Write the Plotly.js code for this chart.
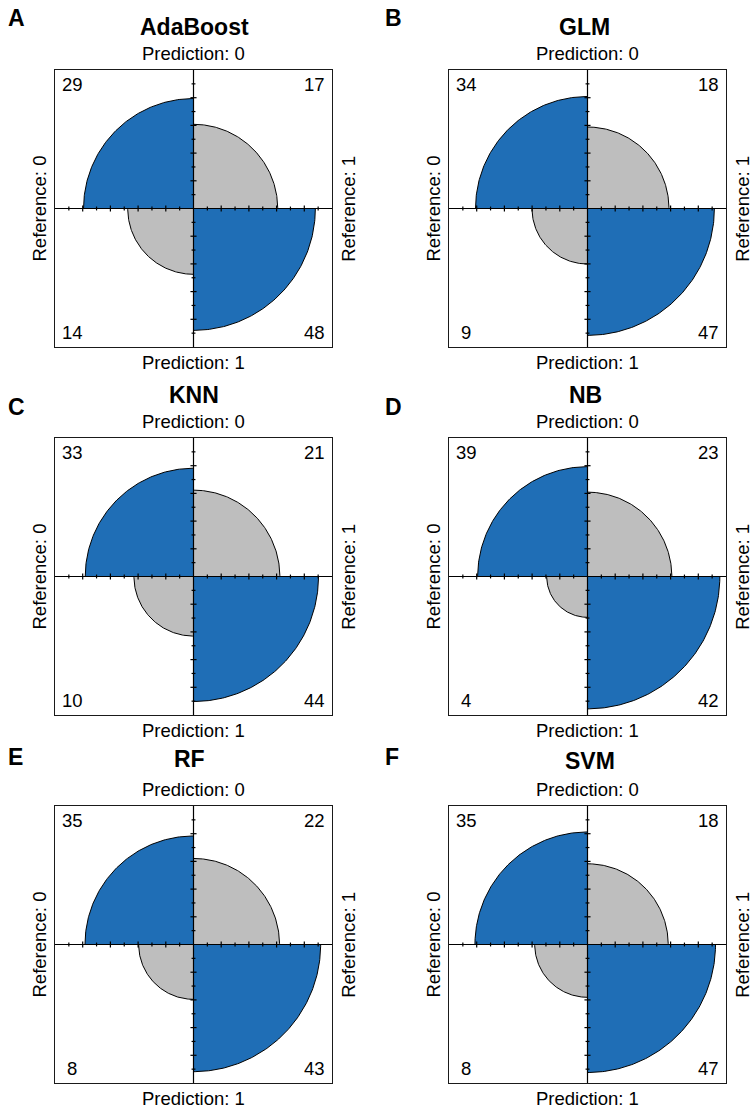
<!DOCTYPE html>
<html><head><meta charset="utf-8">
<script src="https://cdn.plot.ly/plotly-3.0.1.min.js"></script>
<style>html,body{margin:0;padding:0;background:#fff}</style>
</head><body><div id="chart" style="width:750px;height:1107px"></div>
<script>
// ---- data ----
const models = ["AdaBoost", "GLM", "KNN", "NB", "RF", "SVM"];
const panelLetters = ["A", "B", "C", "D", "E", "F"];
const pred0ref0 = [29, 34, 33, 39, 35, 35];
const pred0ref1 = [17, 18, 21, 23, 22, 18];
const pred1ref0 = [14, 9, 10, 4, 8, 8];
const pred1ref1 = [48, 47, 44, 42, 43, 47];
const rowLabels = ["Prediction: 0", "Prediction: 1"];
const colLabels = ["Reference: 0", "Reference: 1"];

// ---- layout (pixel positions) ----
const W = 750, H = 1107, S = 277;
const panels = [
  {left: 55,  top: 70,  tx: 194, ty: 27,  lx: 16,  ly: 18},
  {left: 449, top: 70,  tx: 584, ty: 27,  lx: 393, ly: 18},
  {left: 55,  top: 438, tx: 194, ty: 395, lx: 16,  ly: 407},
  {left: 449, top: 438, tx: 585, ty: 395, lx: 393, ly: 407},
  {left: 55,  top: 806, tx: 189, ty: 759, lx: 15.5, ly: 757},
  {left: 449, top: 806, tx: 590, ty: 761, lx: 392, ly: 757}
];
const BLUE = "#1f6eb6", GRAY = "#bebebe";
const FONT = "Liberation Sans, Arial, sans-serif";
const px = x => x / W, py = y => 1 - y / H;

function quarter(r, a0, a1) {
  const xs = [0], ys = [0];
  const n = 120;
  for (let k = 0; k <= n; k++) {
    const a = (a0 + (a1 - a0) * k / n) * Math.PI / 180;
    xs.push(r * Math.cos(a)); ys.push(r * Math.sin(a));
  }
  xs.push(0); ys.push(0);
  return {xs, ys};
}

const traces = [], annotations = [], layout = {
  width: W, height: H, margin: {l: 0, r: 0, t: 0, b: 0},
  paper_bgcolor: "#fff", plot_bgcolor: "#fff", showlegend: false,
  font: {family: FONT, color: "#000"}
};

models.forEach((m, i) => {
  const p = panels[i];
  const sfx = i === 0 ? "" : String(i + 1);
  const xa = "x" + sfx, ya = "y" + sfx;
  const axBase = {range: [-1, 1], showgrid: false, zeroline: false, showticklabels: false,
    ticks: "", showline: true, mirror: true, linecolor: "#1a1a1a", linewidth: 1.4, fixedrange: true};
  layout["xaxis" + sfx] = Object.assign({}, axBase, {domain: [px(p.left), px(p.left + S)], anchor: ya});
  layout["yaxis" + sfx] = Object.assign({}, axBase, {domain: [py(p.top + S), py(p.top)], anchor: xa});

  const row0 = pred0ref0[i] + pred0ref1[i], row1 = pred1ref0[i] + pred1ref1[i];
  const cells = [
    {v: pred0ref0[i], r: Math.sqrt(pred0ref0[i] / row0), a0: 90,  a1: 180, c: BLUE, tx: -0.875, ty: 0.895},
    {v: pred0ref1[i], r: Math.sqrt(pred0ref1[i] / row0), a0: 0,   a1: 90,  c: GRAY, tx: 0.875,  ty: 0.895},
    {v: pred1ref0[i], r: Math.sqrt(pred1ref0[i] / row1), a0: 180, a1: 270, c: GRAY, tx: -0.875, ty: -0.895},
    {v: pred1ref1[i], r: Math.sqrt(pred1ref1[i] / row1), a0: 270, a1: 360, c: BLUE, tx: 0.875,  ty: -0.895}
  ];
  cells.forEach(c => {
    const q = quarter(c.r, c.a0, c.a1);
    traces.push({type: "scatter", mode: "lines", x: q.xs, y: q.ys, xaxis: xa, yaxis: ya,
      fill: "toself", fillcolor: c.c, line: {color: "#000", width: 1}, hoverinfo: "skip"});
    annotations.push({xref: xa, yref: ya, x: c.tx, y: c.ty, text: String(c.v), showarrow: false,
      font: {size: 18.5, family: FONT, color: "#000"}, xanchor: "center", yanchor: "middle"});
  });

  // cross lines and ticks
  const lx = [-1, 1, null, 0, 0, null], ly = [0, 0, null, -1, 1, null];
  for (let k = -9; k <= 9; k++) {
    if (k === 0) continue;
    const t = k / 10, len = (k % 2 === 0) ? 0.022 : 0.014;
    lx.push(t, t, null); ly.push(-len, len, null);
    lx.push(-len, len, null); ly.push(t, t, null);
  }
  traces.push({type: "scatter", mode: "lines", x: lx, y: ly, xaxis: xa, yaxis: ya,
    line: {color: "#000", width: 1.2}, hoverinfo: "skip", connectgaps: false});

  const cx = p.left + S / 2, cy = p.top + S / 2;
  const txt = (x, y, text, size, bold, angle) => annotations.push({
    xref: "paper", yref: "paper", x: px(x), y: py(y), text: bold ? "<b>" + text + "</b>" : text,
    showarrow: false, xanchor: "center", yanchor: "middle", textangle: angle || 0,
    font: {size: size, family: FONT, color: "#000"}});
  txt(p.tx, p.ty, m, 23, true);
  txt(p.lx, p.ly, panelLetters[i], 23, true);
  txt(cx, p.top - 16.5, rowLabels[0], 18.5, false);
  txt(cx, p.top + S + 15.5, rowLabels[1], 18.5, false);
  txt(p.left - 16, cy, colLabels[0], 18.5, false, -90);
  txt(p.left + S + 16.3, cy, colLabels[1], 18.5, false, -90);
});
layout.annotations = annotations;
Plotly.newPlot("chart", traces, layout, {staticPlot: true, displayModeBar: false});
</script></body></html>
